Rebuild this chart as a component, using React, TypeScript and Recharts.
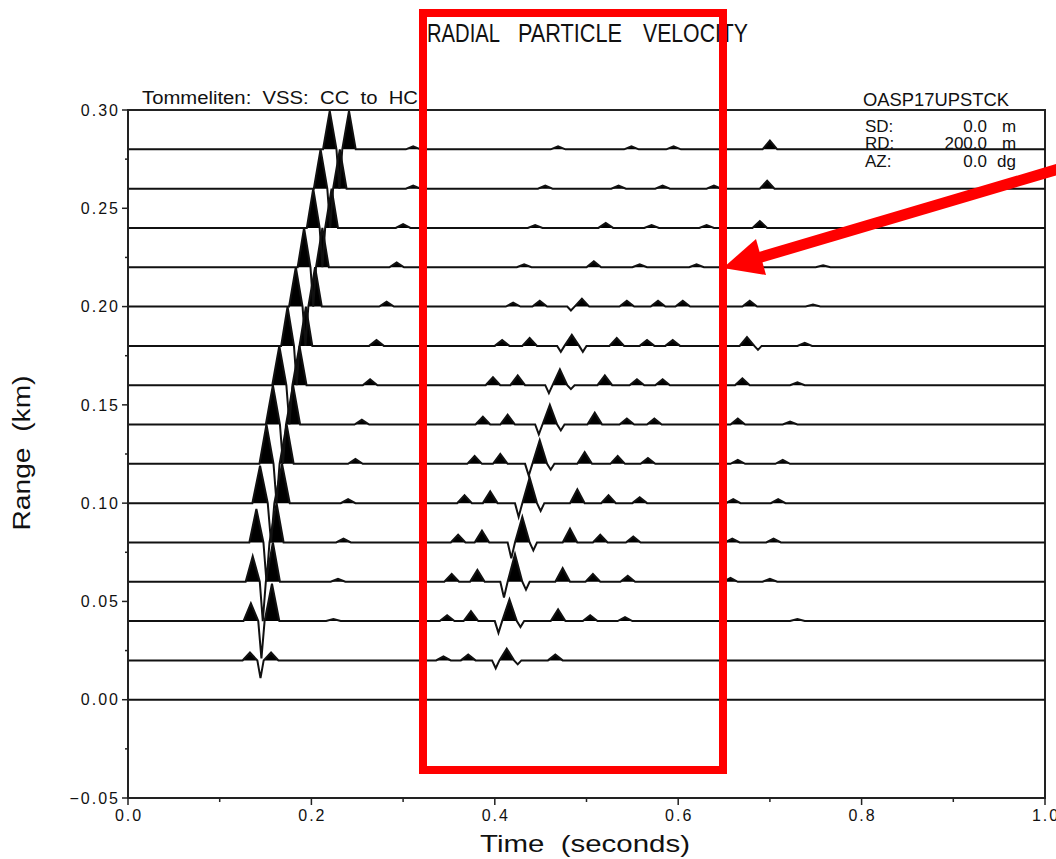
import React from 'react';
import { ComposedChart, Line, Area, XAxis, YAxis, ReferenceLine, ReferenceArea } from 'recharts';

// receiver ranges (km), one trace each
const RANGES = [0.02, 0.04, 0.06, 0.08, 0.1, 0.12, 0.14, 0.16, 0.18, 0.2, 0.22, 0.24, 0.26, 0.28];

// direct arrival: positive lobe, trough, positive lobe (time in s, amplitude in km of plot)
const DIRECT_PEAK1_T = [0.133, 0.134, 0.136, 0.14, 0.144, 0.151, 0.158, 0.165, 0.174, 0.183, 0.192, 0.202, 0.21, 0.22];
const DIRECT_TROUGH_T = [0.1445, 0.1455, 0.147, 0.151, 0.156, 0.162, 0.169, 0.176, 0.184, 0.1935, 0.202, 0.212, 0.2205, 0.2305];
const DIRECT_PEAK2_T = [0.156, 0.157, 0.158, 0.162, 0.168, 0.173, 0.18, 0.187, 0.194, 0.204, 0.212, 0.222, 0.231, 0.241];
const DIRECT_PEAK1_AMP = [0.004, 0.009, 0.013, 0.017, 0.019, 0.02, 0.02, 0.02, 0.02, 0.02, 0.02, 0.02, 0.02, 0.0195];
const DIRECT_TROUGH_AMP = [-0.009, -0.019, -0.02, -0.02, -0.02, -0.02, -0.02, -0.02, -0.02, -0.02, -0.02, -0.02, -0.02, -0.02];
const DIRECT_PEAK2_AMP = [0.004, 0.019, 0.02, 0.02, 0.02, 0.02, 0.02, 0.02, 0.02, 0.02, 0.02, 0.02, 0.02, 0.0195];

// later (reflected / converted) arrivals per trace: [time, amplitude]
const LATER_EVENTS: number[][][] = [
  [[0.344, 0.002], [0.371, 0.003], [0.401, -0.004], [0.413, 0.006], [0.425, -0.002], [0.466, 0.003]],
  [[0.224, 0.001], [0.348, 0.003], [0.374, 0.005], [0.404, -0.006], [0.416, 0.011], [0.428, -0.003], [0.469, 0.006], [0.504, 0.003], [0.542, 0.002], [0.73, 0.001]],
  [[0.229, 0.0015], [0.353, 0.004], [0.381, 0.006], [0.41, -0.008], [0.422, 0.014], [0.434, -0.004], [0.474, 0.007], [0.507, 0.004], [0.545, 0.003], [0.657, 0.002], [0.7, 0.0015]],
  [[0.235, 0.002], [0.36, 0.004], [0.386, 0.006], [0.418, -0.008], [0.43, 0.013], [0.442, -0.004], [0.482, 0.007], [0.515, 0.004], [0.551, 0.003], [0.659, 0.002], [0.704, 0.002]],
  [[0.24, 0.002], [0.367, 0.004], [0.395, 0.006], [0.426, -0.007], [0.438, 0.013], [0.45, -0.004], [0.49, 0.007], [0.524, 0.004], [0.558, 0.003], [0.66, 0.002], [0.709, 0.002]],
  [[0.248, 0.0025], [0.378, 0.004], [0.406, 0.005], [0.437, -0.006], [0.449, 0.012], [0.461, -0.003], [0.498, 0.006], [0.534, 0.004], [0.567, 0.003], [0.665, 0.002], [0.714, 0.002]],
  [[0.255, 0.0025], [0.387, 0.004], [0.414, 0.005], [0.448, -0.005], [0.46, 0.01], [0.472, -0.003], [0.509, 0.006], [0.544, 0.003], [0.574, 0.003], [0.665, 0.003], [0.722, 0.0015]],
  [[0.264, 0.003], [0.398, 0.004], [0.425, 0.005], [0.459, -0.004], [0.471, 0.008], [0.483, -0.002], [0.52, 0.005], [0.555, 0.003], [0.583, 0.003], [0.67, 0.0035], [0.73, 0.0015]],
  [[0.271, 0.003], [0.408, 0.003], [0.438, 0.004], [0.472, -0.003], [0.484, 0.0056], [0.496, -0.003], [0.533, 0.004], [0.566, 0.003], [0.594, 0.003], [0.675, 0.0045], [0.687, -0.002], [0.738, 0.0015]],
  [[0.282, 0.0025], [0.42, 0.002], [0.449, 0.003], [0.483, -0.002], [0.495, 0.004], [0.544, 0.003], [0.578, 0.003], [0.605, 0.003], [0.678, 0.003], [0.747, 0.001]],
  [[0.293, 0.0025], [0.432, 0.0015], [0.508, 0.003], [0.558, 0.0015], [0.62, 0.0015], [0.758, 0.001]],
  [[0.3, 0.002], [0.444, 0.0015], [0.521, 0.0025], [0.571, 0.0015], [0.631, 0.0015], [0.689, 0.0035]],
  [[0.311, 0.0015], [0.455, 0.0015], [0.535, 0.0015], [0.583, 0.0015], [0.639, 0.0015], [0.697, 0.004]],
  [[0.311, 0.0015], [0.469, 0.0015], [0.549, 0.0015], [0.595, 0.0015], [0.7, 0.0045]],
];

const X_TICKS = [0, 0.1, 0.2, 0.3, 0.4, 0.5, 0.6, 0.7, 0.8, 0.9, 1.0];
const Y_TICKS = [-0.05, -0.025, 0, 0.025, 0.05, 0.075, 0.1, 0.125, 0.15, 0.175, 0.2, 0.225, 0.25, 0.275, 0.3];

// half widths of the small later lobes (s)
const PEAK_HALF_WIDTH = 0.008;
const TROUGH_HALF_WIDTH = 0.004;
const FONT = '"Liberation Sans", Arial, sans-serif';

// wiggle trace: each pulse is a triangle on the trace baseline
const buildTrace = (i: number) => {
  const r = RANGES[i];
  const span = DIRECT_PEAK2_T[i] - DIRECT_PEAK1_T[i];
  const lobe = span * 0.35;
  const pulses = [
    [DIRECT_PEAK1_T[i], DIRECT_PEAK1_AMP[i], lobe],
    [DIRECT_TROUGH_T[i], DIRECT_TROUGH_AMP[i], span / 2 - lobe],
    [DIRECT_PEAK2_T[i], DIRECT_PEAK2_AMP[i], lobe],
    ...LATER_EVENTS[i].map(([t, a]) => [t, a, a > 0 ? PEAK_HALF_WIDTH : TROUGH_HALF_WIDTH]),
  ];
  const flat = (t: number) => ({ t, v: r, fill: [r, r] });
  const pts = [flat(0)];
  pulses.forEach(([t, a, w]) => {
    pts.push(flat(t - w));
    pts.push({ t, v: r + a, fill: [r, r + Math.max(a, 0)] });
    pts.push(flat(t + w));
  });
  pts.push(flat(1));
  return pts;
};

const traces = RANGES.map((_, i) => buildTrace(i));

const isMajor = (v: number, step: number) => Math.abs(v / step - Math.round(v / step)) < 1e-6;

const YTick = ({ x, y, payload }: any) => {
  const v = payload.value;
  const major = isMajor(v, 0.05);
  const label = v < 0 ? '\u2212' + Math.abs(v).toFixed(2) : v.toFixed(2);
  return (
    <g>
      <line x1={x + 4 + (major ? 0 : 3)} x2={x + 10} y1={y} y2={y} stroke="#222" strokeWidth={1.5} />
      {major && (
        <text x={x + 2} y={y} dy="0.36em" textAnchor="end" fontFamily={FONT} fontSize={16} letterSpacing={2} fill="#111">
          {label}
        </text>
      )}
    </g>
  );
};

const XTick = ({ x, y, payload }: any) => {
  const v = payload.value;
  const major = isMajor(v, 0.2);
  return (
    <g>
      <line x1={x} x2={x} y1={y - 9} y2={y - (major ? 2 : 5)} stroke="#222" strokeWidth={1.5} />
      {major && (
        <text x={x + 1} y={y + 8} dy="0.36em" textAnchor="middle" fontFamily={FONT} fontSize={16} letterSpacing={2} fill="#111">
          {v.toFixed(1)}
        </text>
      )}
    </g>
  );
};

export default function App() {
  return (
    <div style={{ position: 'absolute', left: 0, top: 0, width: 1056, height: 859, background: '#fff' }}>
      <ComposedChart width={1056} height={859} margin={{ top: 110, right: 11, bottom: 0, left: 0 }}>
        <XAxis
          type="number"
          dataKey="t"
          domain={[0, 1]}
          ticks={X_TICKS}
          interval={0}
          allowDataOverflow
          height={61}
          tickSize={7}
          tickMargin={2}
          tickLine={false}
          tick={<XTick />}
          axisLine={{ stroke: '#222', strokeWidth: 2 }}
        />
        <YAxis
          type="number"
          domain={[-0.05, 0.3]}
          ticks={Y_TICKS}
          interval={0}
          allowDataOverflow
          width={128}
          tickSize={6}
          tickMargin={4}
          tickLine={false}
          tick={<YTick />}
          axisLine={{ stroke: '#222', strokeWidth: 2 }}
        />
        <ReferenceArea x1={0} x2={1} y1={-0.05} y2={0.3} fill="none" stroke="#222" strokeWidth={2} />
        <ReferenceLine y={0} stroke="#111" strokeWidth={2} />
        {traces.map((d, i) => (
          <Area
            key={'a' + i}
            data={d}
            dataKey="fill"
            type="linear"
            stroke="none"
            fill="#000"
            fillOpacity={1}
            isAnimationActive={false}
          />
        ))}
        {traces.map((d, i) => (
          <Line
            key={'l' + i}
            data={d}
            dataKey="v"
            type="linear"
            stroke="#111"
            strokeWidth={2}
            dot={false}
            isAnimationActive={false}
          />
        ))}
      </ComposedChart>
      <svg width={1056} height={859} style={{ position: 'absolute', left: 0, top: 0, pointerEvents: 'none' }}>
        <g fontFamily={FONT} fill="#111">
          <text x={427} y={42} fontSize={25} textLength={73} lengthAdjust="spacingAndGlyphs">RADIAL</text>
          <text x={518} y={42} fontSize={25} textLength={104} lengthAdjust="spacingAndGlyphs">PARTICLE</text>
          <text x={643} y={42} fontSize={25} textLength={105} lengthAdjust="spacingAndGlyphs">VELOCITY</text>
          <text x={142} y={104} fontSize={18} textLength={276} lengthAdjust="spacingAndGlyphs" style={{ whiteSpace: 'pre' }}>
            {'Tommeliten:  VSS:  CC  to  HC'}
          </text>
          <text x={863} y={106} fontSize={18} textLength={146} lengthAdjust="spacingAndGlyphs">OASP17UPSTCK</text>
          <text x={865} y={132} fontSize={17}>SD:</text>
          <text x={987} y={132} fontSize={17} textAnchor="end">0.0</text>
          <text x={1002} y={132} fontSize={17}>m</text>
          <text x={865} y={149} fontSize={17}>RD:</text>
          <text x={987} y={149} fontSize={17} textAnchor="end">200.0</text>
          <text x={1002} y={149} fontSize={17}>m</text>
          <text x={865} y={167} fontSize={17}>AZ:</text>
          <text x={987} y={167} fontSize={17} textAnchor="end">0.0</text>
          <text x={997} y={167} fontSize={17}>dg</text>
          <text x={585} y={852} fontSize={24} textAnchor="middle" textLength={210} lengthAdjust="spacingAndGlyphs" style={{ whiteSpace: 'pre' }}>
            {'Time  (seconds)'}
          </text>
          <text
            x={0}
            y={0}
            fontSize={23}
            textAnchor="middle"
            textLength={155}
            lengthAdjust="spacingAndGlyphs"
            transform="translate(30 453) rotate(-90)"
            style={{ whiteSpace: 'pre' }}
          >
            {'Range  (km)'}
          </text>
        </g>
        <rect x={423} y={13} width={300} height={757} fill="none" stroke="#ff0000" strokeWidth={8} />
        <line x1={1062} y1={168} x2={758} y2={258} stroke="#ff0000" strokeWidth={11} />
        <polygon points="723,268 756,239 766,275" fill="#ff0000" />
      </svg>
    </div>
  );
}
